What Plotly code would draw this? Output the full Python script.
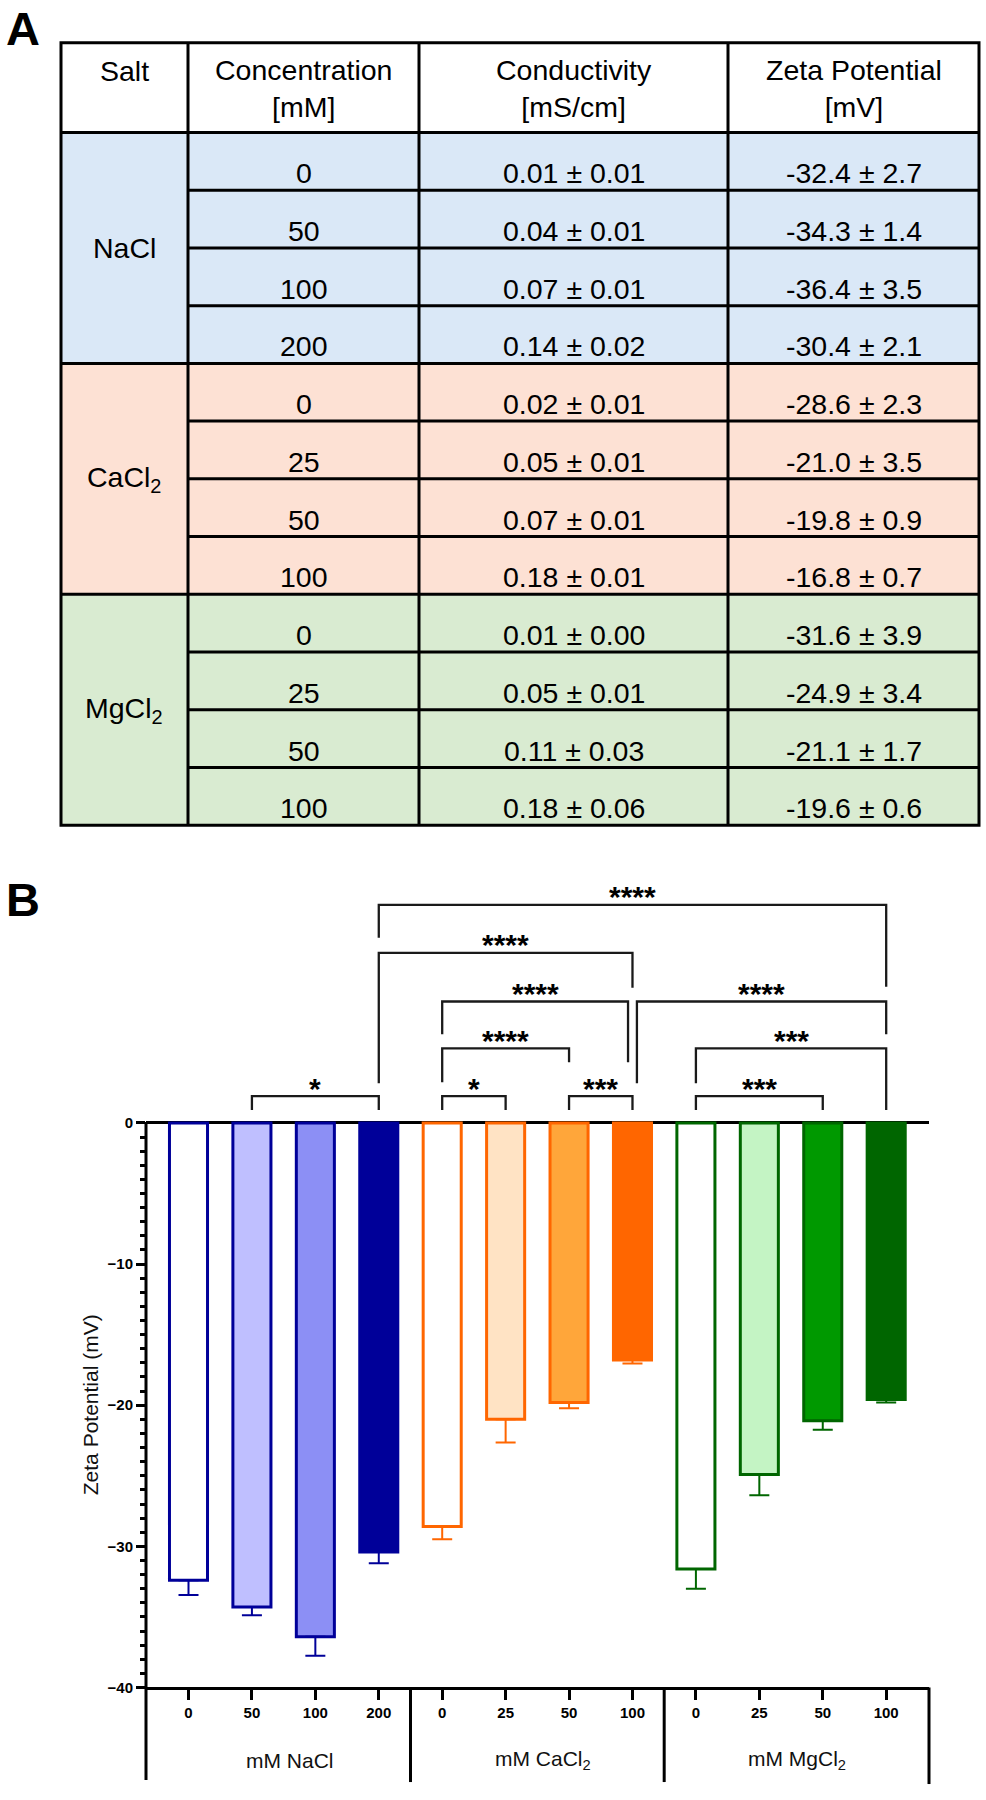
import plotly.graph_objects as go

W, H = 986, 1800

# ---------------- data ----------------
salts = ["NaCl", "CaCl<sub>2</sub>", "MgCl<sub>2</sub>"]
concentrations = ["0", "50", "100", "200", "0", "25", "50", "100", "0", "25", "50", "100"]
conductivity_mean = [0.01, 0.04, 0.07, 0.14, 0.02, 0.05, 0.07, 0.18, 0.01, 0.05, 0.11, 0.18]
conductivity_sd = [0.01, 0.01, 0.01, 0.02, 0.01, 0.01, 0.01, 0.01, 0.00, 0.01, 0.03, 0.06]
zeta_mean = [-32.4, -34.3, -36.4, -30.4, -28.6, -21.0, -19.8, -16.8, -31.6, -24.9, -21.1, -19.6]
zeta_sd = [2.7, 1.4, 3.5, 2.1, 2.3, 3.5, 0.9, 0.7, 3.9, 3.4, 1.7, 0.6]
zeta_err_plot = [1.05, 0.58, 1.36, 0.80, 0.89, 1.64, 0.42, 0.25, 1.41, 1.48, 0.63, 0.21]
group_labels = ["mM NaCl", "mM CaCl<sub>2</sub>", "mM MgCl<sub>2</sub>"]
header_labels = ["Salt", "Concentration<br>[mM]", "Conductivity<br>[mS/cm]", "Zeta Potential<br>[mV]"]
y_tick_vals = [0, -10, -20, -30, -40]
# significance comparisons: (left bar, right bar, bracket level [mV], left leg end, right leg end, label)
comparisons = [
    (1, 3, 1.90, 0.92, 0.92, "*"),
    (4, 5, 1.90, 0.92, 0.92, "*"),
    (6, 7, 1.90, 0.92, 0.92, "***"),
    (8, 10, 1.90, 0.92, 0.92, "***"),
    (4, 6, 5.29, 2.89, 4.30, "****"),
    (8, 11, 5.29, 2.82, 0.92, "***"),
    (4, 7, 8.61, 6.28, 4.30, "****"),
    (7, 11, 8.61, 2.82, 6.28, "****"),
    (3, 7, 12.06, 2.82, 9.59, "****"),
    (3, 11, 15.45, 13.12, 9.66, "****"),
]

# ---------------- styles ----------------
FONT = "Liberation Sans, Arial, sans-serif"
row_fill = ["#DAE8F7", "#FDE1D4", "#D9EBD1"]
bar_line = ["#000099", "#FF6600", "#006600"]
bar_fill = [
    ["#FFFFFF", "#BFBFFF", "#8C8FF5", "#000099"],
    ["#FFFFFF", "#FFE3C4", "#FFA63A", "#FF6600"],
    ["#FFFFFF", "#C4F4C4", "#009900", "#006600"],
]


def px(x):
    return x / W


def py(y):
    return 1 - y / H


fig = go.Figure()
shapes = []
ann = []

# ---------------- Panel A: table ----------------
col_x = [61, 188, 419, 728, 979]
head_top, head_bot, row_h = 43, 133, 58
n_rows = len(concentrations)
tab_bot = head_bot + n_rows * row_h

for g in range(3):
    shapes.append(dict(type="rect", xref="paper", yref="paper", layer="below",
                       x0=px(col_x[0]), x1=px(col_x[-1]),
                       y0=py(head_bot + 4 * g * row_h), y1=py(head_bot + 4 * (g + 1) * row_h),
                       fillcolor=row_fill[g], line=dict(width=0)))

LW = 3
line_style = dict(color="#000000", width=LW)
shapes.append(dict(type="rect", xref="paper", yref="paper",
                   x0=px(col_x[0]), x1=px(col_x[-1]), y0=py(head_top), y1=py(tab_bot),
                   line=line_style))
for cx in col_x[1:-1]:
    shapes.append(dict(type="line", xref="paper", yref="paper",
                       x0=px(cx), x1=px(cx), y0=py(head_top), y1=py(tab_bot), line=line_style))
for k in range(0, n_rows):
    yy = head_bot + k * row_h
    x_start = col_x[0] if k % 4 == 0 else col_x[1]
    shapes.append(dict(type="line", xref="paper", yref="paper",
                       x0=px(x_start), x1=px(col_x[-1]), y0=py(yy), y1=py(yy), line=line_style))

TFS = 28.5
for i, lab in enumerate(header_labels):
    cxm = (col_x[i] + col_x[i + 1]) / 2
    yc = 71 if i == 0 else 89
    ann.append(dict(x=px(cxm), y=py(yc), xref="paper", yref="paper", text=lab,
                    showarrow=False, xanchor="center", yanchor="middle",
                    font=dict(family=FONT, size=TFS, color="#000")))
for g, s in enumerate(salts):
    yc = head_bot + (4 * g + 2) * row_h
    ann.append(dict(x=px((col_x[0] + col_x[1]) / 2), y=py(yc), xref="paper", yref="paper",
                    text=s, showarrow=False, xanchor="center", yanchor="middle",
                    font=dict(family=FONT, size=TFS, color="#000")))
for r in range(n_rows):
    yc = head_bot + r * row_h + row_h / 2 + 12
    cells = [concentrations[r],
             f"{conductivity_mean[r]:.2f} ± {conductivity_sd[r]:.2f}",
             f"{zeta_mean[r]:.1f} ± {zeta_sd[r]:.1f}"]
    for j, t in enumerate(cells):
        cxm = (col_x[j + 1] + col_x[j + 2]) / 2
        ann.append(dict(x=px(cxm), y=py(yc), xref="paper", yref="paper", text=t,
                        showarrow=False, xanchor="center", yanchor="middle",
                        font=dict(family=FONT, size=TFS, color="#000")))

# panel letters
ann.append(dict(x=px(4), y=1, xref="paper", yref="paper", text="A",
                showarrow=False, xanchor="left", yanchor="top",
                font=dict(family=FONT, size=47, color="#000", weight="bold")))
ann.append(dict(x=px(4), y=py(904), xref="paper", yref="paper", text="B",
                showarrow=False, xanchor="left", yanchor="middle",
                font=dict(family=FONT, size=47, color="#000", weight="bold")))

# ---------------- Panel B: bar chart ----------------
x_pos = list(range(len(zeta_mean)))
for g in range(3):
    sl = slice(4 * g, 4 * g + 4)
    fig.add_trace(go.Bar(
        x=x_pos[sl], y=zeta_mean[sl], width=0.6,
        marker=dict(color=bar_fill[g], line=dict(color=bar_line[g], width=3)),
        error_y=dict(type="data", symmetric=False, array=[0] * 4,
                     arrayminus=zeta_err_plot[sl], color=bar_line[g],
                     thickness=2, width=10),
        showlegend=False, hoverinfo="skip"))

plot_left, plot_right = 146, 929
dom_bot, dom_top, zero_px = 1695, 880, 1128
x_min, x_max = -0.67, 11.675
y_max = 40 * (zero_px - dom_top) / (dom_bot - zero_px)

shapes.append(dict(type="line", xref="paper", yref="paper", x0=px(plot_left), x1=px(plot_left),
                   y0=py(zero_px - 1), y1=py(1788), line=dict(color="#000", width=3)))
for xd in (3.5, 7.5):
    shapes.append(dict(type="line", xref="x", yref="paper", x0=xd, x1=xd,
                       y0=py(dom_bot), y1=py(1790), line=dict(color="#000", width=3)))
shapes.append(dict(type="line", xref="paper", yref="paper", x0=px(plot_right), x1=px(plot_right),
                   y0=py(dom_bot), y1=py(1792), line=dict(color="#000", width=3)))

nudge = {(6, "R"): -0.07, (7, "L"): 0.07}
for idx, (a, b, lev, la, lb, lab) in enumerate(comparisons):
    xa = a + nudge.get((idx, "L"), 0)
    xb = b + nudge.get((idx, "R"), 0)
    shapes.append(dict(type="path", xref="x", yref="y",
                       path=f"M {xa},{la} L {xa},{lev} L {xb},{lev} L {xb},{lb}",
                       line=dict(color="#1a1a1a", width=2.3)))
    ann.append(dict(x=(xa + xb) / 2, y=lev, xref="x", yref="y", text=lab, showarrow=False,
                    xanchor="center", yanchor="middle", yshift=8,
                    font=dict(family=FONT, size=30, color="#000", weight="bold")))

ann.append(dict(x=px(90), y=py((zero_px + dom_bot) / 2), xref="paper", yref="paper",
                text="Zeta Potential (mV)", textangle=-90, showarrow=False,
                xanchor="center", yanchor="middle",
                font=dict(family=FONT, size=21, color="#111")))
for g, lab in enumerate(group_labels):
    ann.append(dict(x=4 * g + 1.5, y=py(1768), xref="x", yref="paper", text=lab,
                    xshift=6, showarrow=False, xanchor="center", yanchor="middle",
                    font=dict(family=FONT, size=21, color="#111")))

minor_vals = [v for v in range(-39, 0) if v % 10 != 0]
fig.update_layout(
    width=W, height=H, margin=dict(l=0, r=0, t=0, b=0),
    paper_bgcolor="white", plot_bgcolor="white",
    barmode="overlay",
    shapes=shapes, annotations=ann,
    xaxis=dict(domain=[px(plot_left), px(plot_right)], range=[x_min, x_max],
               tickmode="array", tickvals=x_pos, ticktext=concentrations,
               ticks="outside", ticklen=10, tickwidth=3, tickcolor="#000",
               showline=True, linewidth=3, linecolor="#000",
               showgrid=False, zeroline=False, fixedrange=True,
               tickfont=dict(family=FONT, size=15, color="#000", weight="bold")),
    yaxis=dict(domain=[py(dom_bot), py(dom_top)], range=[-40, y_max],
               tickmode="array", tickvals=y_tick_vals,
               ticks="outside", ticklen=9, tickwidth=3, tickcolor="#000",
               minor=dict(tickmode="array", tickvals=minor_vals, ticks="outside",
                          ticklen=5, tickwidth=2.5, tickcolor="#000", showgrid=False),
               showline=False, showgrid=False,
               zeroline=True, zerolinewidth=3, zerolinecolor="#000", fixedrange=True,
               tickfont=dict(family=FONT, size=15, color="#000", weight="bold")),
)

fig.write_html("out.html")
